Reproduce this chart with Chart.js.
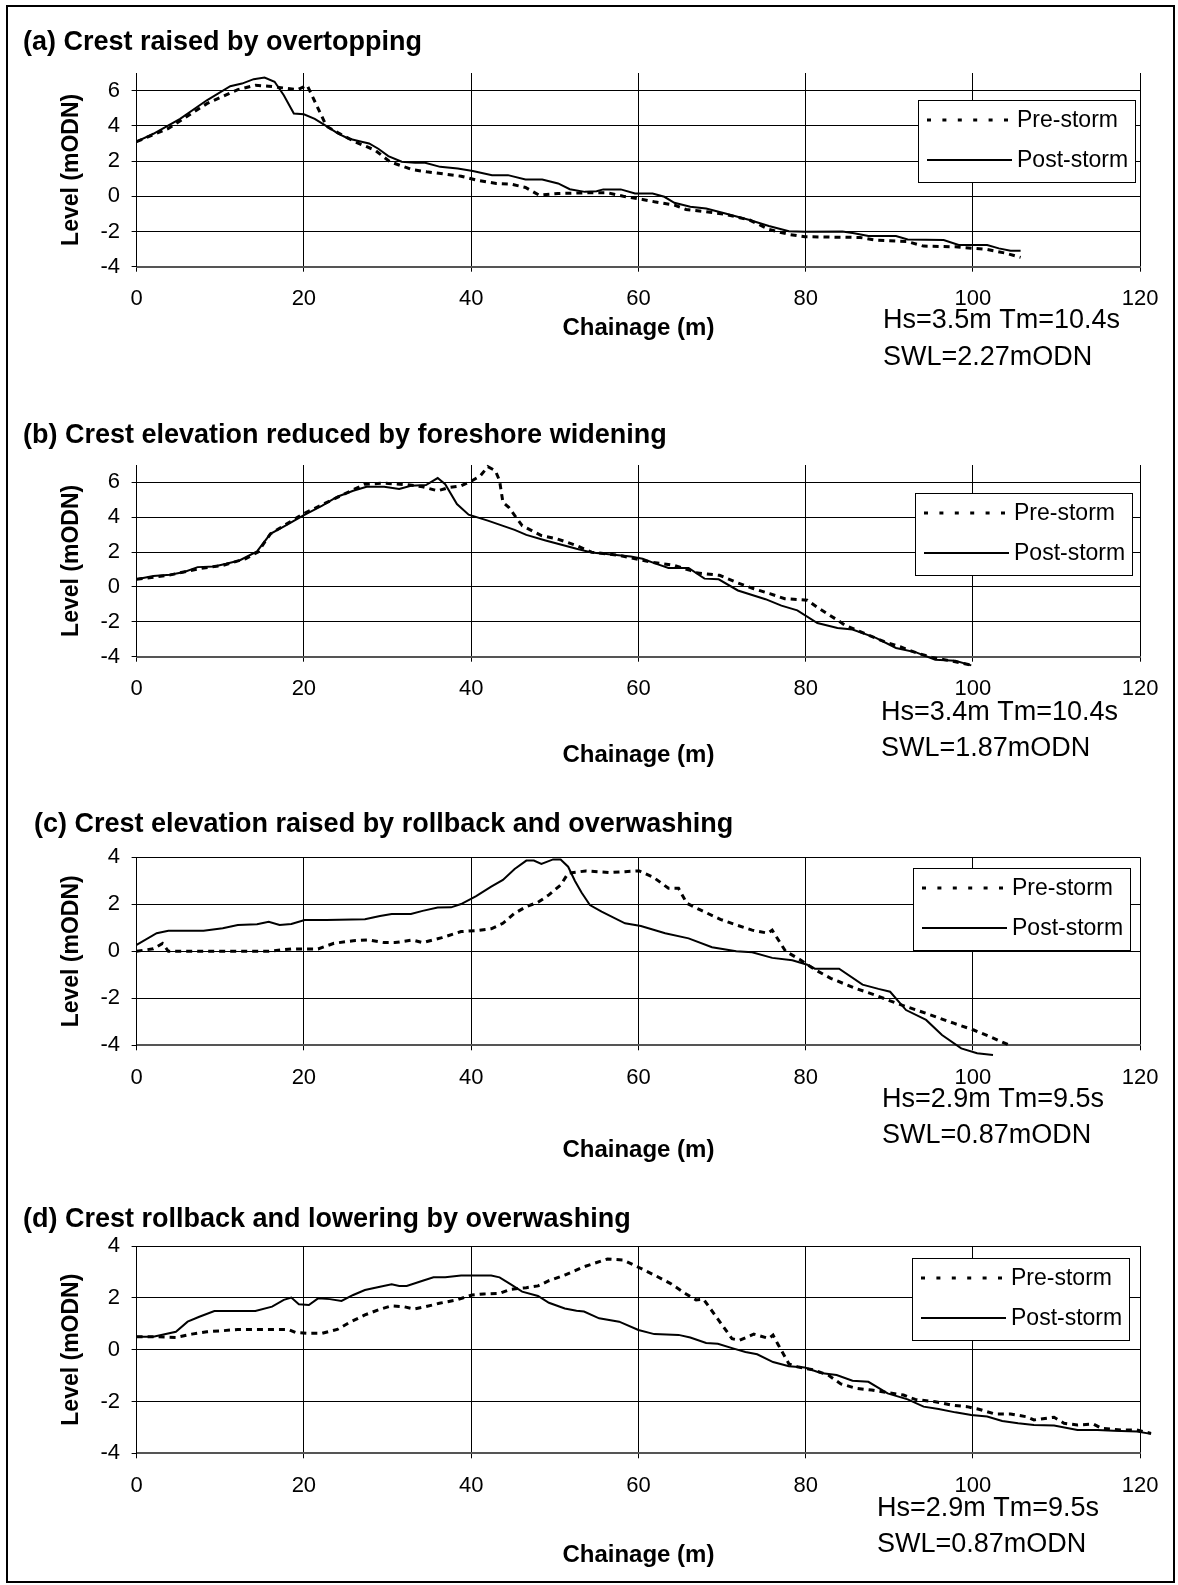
<!DOCTYPE html>
<html>
<head>
<meta charset="utf-8">
<title>Beach profile change</title>
<script src="https://cdn.jsdelivr.net/npm/chart.js@4.4.1/dist/chart.umd.min.js"></script>
<style>
  html, body { margin: 0; padding: 0; background: #fff; }
  #page { position: relative; width: 1178px; height: 1585px; overflow: hidden; }
  #page canvas { position: absolute; left: 0; }
  #frame { position: absolute; left: 6px; top: 5px; width: 1169px; height: 1578px;
           border: 2px solid #000; box-sizing: border-box; pointer-events: none; }
</style>
</head>
<body>
<div id="page"><div id="frame"></div></div>
<script>
const FONT = "'Liberation Sans', Arial, Helvetica, sans-serif";

const seriesNames = ['Pre-storm', 'Post-storm'];
const panelTitles = [
  '(a) Crest raised by overtopping',
  '(b) Crest elevation reduced by foreshore widening',
  '(c) Crest elevation raised by rollback and overwashing',
  '(d) Crest rollback and lowering by overwashing'
];
const waveNotes = ['Hs=3.5m Tm=10.4s', 'Hs=3.4m Tm=10.4s', 'Hs=2.9m Tm=9.5s', 'Hs=2.9m Tm=9.5s'];
const swlNotes = ['SWL=2.27mODN', 'SWL=1.87mODN', 'SWL=0.87mODN', 'SWL=0.87mODN'];
const levelMax = [7, 7, 4, 4];
const levelMin = -4;
const levelStep = 2;
const chainageMax = 120;
const chainageStep = 20;

// (a)
const aPreChainage = [0, 3.8, 8.4, 12.1, 14.2, 15.8, 17.6, 19.2, 20.4, 22.7, 24.1, 26.4, 28.5, 30.3, 32.9, 34.7, 38.8, 40.7, 43, 44.8, 46.5, 48.1, 50.4, 54.5, 56.3, 58.2, 60.5, 61.9, 64.3, 65.7, 68.1, 70.4, 73.3, 75.6, 78, 79.9, 86.5, 88.4, 92.2, 94.1, 97.9, 101.7, 104, 105.7];
const aPreLevel = [3.1, 3.85, 5.26, 6.06, 6.3, 6.25, 6.15, 6.05, 6.3, 3.98, 3.6, 3.03, 2.62, 1.96, 1.52, 1.39, 1.14, 0.91, 0.73, 0.69, 0.5, 0.07, 0.16, 0.2, 0.2, 0.0, -0.18, -0.31, -0.5, -0.75, -0.88, -1.03, -1.35, -1.88, -2.17, -2.3, -2.34, -2.49, -2.58, -2.83, -2.87, -3.02, -3.24, -3.47];
const aPostChainage = [0, 2, 5.2, 8.4, 11.2, 12.6, 14, 15.3, 16.5, 17.6, 18.8, 20, 21.3, 22.7, 24.1, 25.3, 26.9, 27.8, 28.9, 30.1, 31.7, 33.3, 34.5, 36.3, 38.4, 40.2, 42.5, 44.4, 46.5, 48.5, 50.4, 51.8, 53.6, 55, 55.8, 57.9, 59.6, 61.7, 63.1, 64.3, 66.2, 68.1, 70.4, 73.3, 75.6, 78, 79.9, 84.4, 85.8, 87.5, 90.8, 92.2, 96.5, 98.3, 101.7, 103.1, 104.5, 105.7];
const aPostLevel = [3.1, 3.55, 4.4, 5.45, 6.25, 6.4, 6.65, 6.74, 6.5, 5.74, 4.7, 4.66, 4.4, 3.98, 3.56, 3.28, 3.1, 3.0, 2.7, 2.28, 1.96, 1.9, 1.9, 1.67, 1.58, 1.44, 1.2, 1.2, 0.95, 0.95, 0.73, 0.4, 0.25, 0.28, 0.39, 0.39, 0.16, 0.16, -0.03, -0.37, -0.6, -0.69, -0.98, -1.35, -1.69, -1.98, -2.01, -2.0, -2.1, -2.26, -2.26, -2.45, -2.49, -2.77, -2.77, -2.96, -3.09, -3.09];

// (b)
const bPreChainage = [0, 3.8, 7.5, 10.3, 13, 14.5, 16, 19.9, 24, 27.3, 29.6, 32.3, 34.2, 36, 37.4, 38.8, 40.1, 41.1, 42, 42.9, 43.4, 43.8, 44.5, 46.1, 48.4, 50.3, 52.6, 54.4, 57.7, 60, 61.5, 64.3, 66.2, 67.1, 69.7, 71.9, 73.8, 75.7, 77.5, 80.2, 81.3, 83.7, 84.7, 87.5, 89.4, 91.3, 93.2, 95.1, 97.9, 100];
const bPreLevel = [0.44, 0.67, 1.05, 1.24, 1.62, 2.0, 3.05, 4.19, 5.14, 5.9, 5.96, 5.87, 5.75, 5.52, 5.71, 5.81, 6.1, 6.38, 6.9, 6.67, 6.1, 4.86, 4.57, 3.52, 2.95, 2.76, 2.38, 2.0, 1.81, 1.58, 1.43, 1.24, 0.95, 0.8, 0.67, 0.23, -0.1, -0.38, -0.67, -0.76, -1.14, -1.87, -2.19, -2.76, -3.14, -3.43, -3.77, -4.04, -4.29, -4.51];
const bPostChainage = [0, 2, 4, 5.7, 7.3, 9.3, 10.7, 12.3, 14.4, 16, 17.8, 19.9, 22.2, 24, 25.9, 27.5, 29.6, 31.4, 32.8, 34.6, 36, 36.9, 38.3, 39.7, 42, 45.2, 46.6, 48.9, 52.6, 54.4, 59.1, 60.5, 61.9, 63.6, 66, 67.9, 69.6, 71.9, 75.2, 77.1, 79, 81.4, 83.8, 85.6, 88.4, 90.8, 93.2, 95.5, 97.9, 99.8];
const bPostLevel = [0.44, 0.63, 0.7, 0.86, 1.14, 1.18, 1.33, 1.52, 2.04, 3.05, 3.52, 4.1, 4.67, 5.18, 5.52, 5.75, 5.75, 5.62, 5.81, 5.85, 6.25, 5.9, 4.76, 4.15, 3.81, 3.28, 2.99, 2.67, 2.19, 1.98, 1.75, 1.62, 1.37, 1.09, 1.09, 0.48, 0.44, -0.2, -0.7, -1.07, -1.34, -2.07, -2.35, -2.44, -2.92, -3.5, -3.75, -4.17, -4.23, -4.5];

// (c)
const cPreChainage = [0, 2, 3.1, 3.8, 15.8, 18.5, 21.7, 23.6, 25.9, 27.7, 29.6, 30.9, 33, 34.2, 36.5, 38.8, 40.6, 42.4, 43.8, 45.2, 46.6, 48, 49.3, 50.7, 51.6, 53.7, 56.5, 58.4, 60.1, 61.8, 63.6, 64.8, 65.8, 67.4, 69.8, 71.7, 73.6, 75.5, 76, 77.6, 79.3, 81.1, 83, 85.9, 88.3, 90.1, 92, 94.4, 97.7, 100.1, 102, 104.6];
const cPreLevel = [0, 0.11, 0.33, 0, 0, 0.1, 0.1, 0.34, 0.45, 0.48, 0.37, 0.37, 0.48, 0.37, 0.58, 0.84, 0.88, 0.96, 1.19, 1.62, 1.9, 2.09, 2.4, 2.82, 3.32, 3.42, 3.35, 3.39, 3.42, 3.15, 2.68, 2.68, 2.04, 1.76, 1.36, 1.12, 0.9, 0.77, 0.9, 0.0, -0.35, -0.78, -1.15, -1.57, -1.86, -2.11, -2.35, -2.64, -3.06, -3.35, -3.63, -4.03];
const cPostChainage = [0, 2.4, 3.8, 8, 10.3, 12.1, 14.4, 15.8, 17.1, 18.5, 20.1, 22.7, 27.3, 29.1, 30.5, 32.8, 34.2, 36, 37.6, 38.8, 40.6, 42.4, 43.8, 45.2, 46.6, 47.5, 48.4, 49.8, 50.7, 51.6, 52.4, 53.2, 54.2, 55.6, 58.4, 60.3, 63.2, 66, 68.8, 71.7, 73.6, 76, 78.4, 80.2, 81.1, 84, 86.8, 88.7, 90.1, 92, 94.4, 96.3, 98.6, 100.5, 102.4];
const cPostLevel = [0.27, 0.77, 0.87, 0.87, 0.98, 1.12, 1.15, 1.26, 1.12, 1.16, 1.33, 1.33, 1.36, 1.5, 1.59, 1.59, 1.72, 1.86, 1.87, 2.01, 2.35, 2.75, 3.04, 3.5, 3.86, 3.86, 3.72, 3.91, 3.91, 3.6, 3.0, 2.5, 1.97, 1.69, 1.19, 1.08, 0.77, 0.55, 0.17, 0.0, -0.04, -0.28, -0.38, -0.57, -0.74, -0.74, -1.42, -1.6, -1.72, -2.5, -2.92, -3.56, -4.13, -4.34, -4.41];

// (d)
const dPreChainage = [0, 2, 4.7, 6.6, 8.4, 10.3, 12.1, 18.1, 19, 20.4, 22.2, 24, 25.4, 27.3, 29.1, 30.5, 31.9, 33.2, 34.6, 36.2, 38.3, 40.1, 41.5, 43.4, 44.7, 46.6, 48, 49.3, 51.2, 53.5, 56.3, 58.2, 60, 61.9, 63.8, 65.7, 66.9, 67.8, 71.2, 72.1, 73.8, 75.6, 76.1, 76.7, 78, 79, 80.9, 82.7, 84.2, 86, 87.9, 89.8, 91.7, 93.1, 95.5, 97.4, 99.3, 100.7, 102.6, 104.5, 106.4, 107.3, 109.7, 110.9, 112.5, 114.4, 115.4, 117.7, 119.6, 121.3];
const dPreLevel = [0.5, 0.5, 0.47, 0.6, 0.69, 0.73, 0.78, 0.78, 0.66, 0.63, 0.63, 0.78, 1.04, 1.34, 1.56, 1.69, 1.66, 1.57, 1.66, 1.79, 1.92, 2.11, 2.15, 2.17, 2.33, 2.39, 2.46, 2.66, 2.88, 3.2, 3.5, 3.46, 3.18, 2.88, 2.56, 2.15, 1.92, 1.94, 0.42, 0.36, 0.6, 0.43, 0.56, 0.2, -0.55, -0.66, -0.78, -0.98, -1.32, -1.49, -1.56, -1.66, -1.75, -1.92, -2.01, -2.14, -2.2, -2.3, -2.48, -2.48, -2.59, -2.71, -2.61, -2.84, -2.91, -2.87, -3.04, -3.1, -3.1, -3.23];
const dPostChainage = [0, 2, 4.7, 6.1, 7.5, 9.3, 14.2, 16.2, 17.6, 18.5, 19.4, 20.6, 21.7, 23.1, 24.5, 25.9, 27.3, 29.1, 30.5, 31.4, 32.3, 34.2, 35.5, 36.9, 38.8, 42.4, 43.4, 44.7, 46.1, 48, 49.3, 51.2, 52.6, 53.5, 55.3, 57.7, 60, 61.9, 64.8, 66.2, 68.1, 69.5, 71.4, 72.8, 74.2, 76.1, 78, 79.9, 81.8, 83.7, 85.6, 87.5, 89.8, 92.2, 94.1, 95.9, 97.9, 99.8, 101.7, 103.5, 105.4, 107.3, 109.7, 112.5, 114.9, 116.8, 119.6, 121.3];
const dPostLevel = [0.5, 0.5, 0.69, 1.08, 1.27, 1.49, 1.49, 1.66, 1.92, 2.01, 1.75, 1.72, 1.98, 1.95, 1.88, 2.11, 2.3, 2.43, 2.52, 2.46, 2.46, 2.66, 2.79, 2.79, 2.86, 2.86, 2.79, 2.53, 2.24, 2.07, 1.81, 1.59, 1.5, 1.47, 1.21, 1.08, 0.76, 0.6, 0.57, 0.47, 0.26, 0.23, 0.04, -0.09, -0.18, -0.48, -0.64, -0.69, -0.9, -0.98, -1.2, -1.24, -1.69, -1.92, -2.2, -2.29, -2.42, -2.52, -2.58, -2.75, -2.84, -2.91, -2.93, -3.1, -3.1, -3.13, -3.16, -3.25];

const profiles = [
  [aPreChainage, aPreLevel, aPostChainage, aPostLevel],
  [bPreChainage, bPreLevel, bPostChainage, bPostLevel],
  [cPreChainage, cPreLevel, cPostChainage, cPostLevel],
  [dPreChainage, dPreLevel, dPostChainage, dPostLevel]
];

// where each panel sits on the page (page pixels)
const layout = [
  {top: 0, height: 372, plotTop: 73, plotBottom: 266.7, titleX: 23, titleY: 50, noteX: 883, noteY: [328, 365], xTitleY: 328, legendX: 918, legendY: 100},
  {top: 372, height: 395, plotTop: 465, plotBottom: 656.7, titleX: 23, titleY: 443.3, noteX: 881, noteY: [720, 756], xTitleY: 755, legendX: 915, legendY: 493},
  {top: 767, height: 401, plotTop: 857.3, plotBottom: 1045.3, titleX: 34, titleY: 831.7, noteX: 882, noteY: [1107.3, 1143.3], xTitleY: 1150, legendX: 913, legendY: 868},
  {top: 1168, height: 417, plotTop: 1246, plotBottom: 1453.3, titleX: 23, titleY: 1226.7, noteX: 877, noteY: [1516, 1551.7], xTitleY: 1555, legendX: 912, legendY: 1258}
];
const plotLeft = 136.6, plotRight = 1140.2;

Chart.defaults.font.family = FONT;
Chart.defaults.color = '#000';

// panel heading, wave notes and the boxed legend
const decor = {
  id: 'decor',
  afterDatasetsDraw(chart, args, o) {
    const ctx = chart.ctx;
    ctx.save();
    ctx.fillStyle = '#000';
    ctx.textAlign = 'left';
    ctx.textBaseline = 'alphabetic';
    ctx.font = 'bold 27px ' + FONT;
    ctx.fillText(o.title, o.titleX, o.titleY - o.top);
    ctx.font = '27px ' + FONT;
    o.notes.forEach((t, k) => ctx.fillText(t, o.noteX, o.noteY[k] - o.top));

    const bx = o.legendX, by = o.legendY - o.top, bw = 217, bh = 82;
    ctx.fillStyle = '#fff';
    ctx.fillRect(bx, by, bw, bh);
    ctx.strokeStyle = '#000';
    ctx.lineWidth = 1;
    ctx.strokeRect(Math.round(bx) + 0.5, Math.round(by) + 0.5, bw, bh);
    chart.data.datasets.forEach((ds, k) => {
      const cy = by + 20 + 40 * k;
      ctx.save();
      ctx.strokeStyle = ds.borderColor;
      ctx.lineWidth = ds.borderWidth;
      ctx.setLineDash(ds.legendDash || []);
      ctx.beginPath();
      ctx.moveTo(bx + 9, cy);
      ctx.lineTo(bx + (ds.legendDash ? 90 : 94), cy);
      ctx.stroke();
      ctx.restore();
      ctx.fillStyle = '#000';
      ctx.font = '23px ' + FONT;
      ctx.textBaseline = 'middle';
      ctx.fillText(ds.label, bx + 99, cy + 1);
    });
    ctx.restore();
  }
};

const page = document.getElementById('page');
const frame = document.getElementById('frame');
const toPoints = (xs, ys) => xs.map((x, k) => ({x: x, y: ys[k]}));

layout.forEach((L, i) => {
  const canvas = document.createElement('canvas');
  canvas.width = 1178;
  canvas.height = L.height;
  canvas.style.top = L.top + 'px';
  canvas.style.width = '1178px';
  canvas.style.height = L.height + 'px';
  page.insertBefore(canvas, frame);

  const [preX, preY, postX, postY] = profiles[i];
  const plotTop = L.plotTop - L.top;
  const plotBottom = L.plotBottom - L.top;
  const xAxisH = L.xTitleY - L.plotBottom + 12;

  new Chart(canvas, {
    type: 'line',
    data: {
      datasets: [
        {
          label: seriesNames[0],
          data: toPoints(preX, preY),
          borderColor: '#000',
          borderWidth: 3,
          borderDash: [6, 5],
          legendDash: [4, 11.4],
          pointRadius: 0,
          tension: 0,
          clip: false
        },
        {
          label: seriesNames[1],
          data: toPoints(postX, postY),
          borderColor: '#000',
          borderWidth: 2,
          pointRadius: 0,
          tension: 0,
          clip: false
        }
      ]
    },
    options: {
      responsive: false,
      animation: false,
      devicePixelRatio: 1,
      layout: {
        padding: {left: 0, top: plotTop, right: 1178 - plotRight, bottom: L.height - plotBottom - xAxisH}
      },
      plugins: {
        legend: {display: false},
        tooltip: {enabled: false},
        decor: {
          top: L.top, title: panelTitles[i], titleX: L.titleX, titleY: L.titleY,
          notes: [waveNotes[i], swlNotes[i]], noteX: L.noteX, noteY: L.noteY,
          legendX: L.legendX, legendY: L.legendY
        }
      },
      scales: {
        x: {
          type: 'linear',
          min: 0,
          max: chainageMax,
          bounds: 'data',
          ticks: {stepSize: chainageStep, padding: 14, font: {size: 22}, maxRotation: 0, autoSkip: false},
          grid: {color: '#000', lineWidth: 1, tickLength: 5},
          border: {color: '#555', width: 2},
          title: {display: true, text: 'Chainage (m)', font: {size: 24, weight: 'bold', lineHeight: 1}, padding: 0},
          afterFit: s => { s.height = xAxisH; }
        },
        y: {
          type: 'linear',
          min: levelMin,
          max: levelMax[i],
          bounds: 'data',
          ticks: {stepSize: levelStep, padding: 11.6, font: {size: 22}},
          // the axis runs up to 7 m in (a) and (b) but is only labelled every 2 m
          afterBuildTicks: s => { s.ticks = s.ticks.filter(t => Math.abs(t.value % levelStep) < 1e-9); },
          grid: {color: '#000', lineWidth: 1, tickLength: 5},
          border: {color: '#000', width: 1},
          title: {display: true, text: 'Level (mODN)', font: {size: 23, weight: 'bold', lineHeight: 1.2},
                  padding: {top: 72 - 13.8, bottom: 0}},
          afterFit: s => { s.width = plotLeft; }
        }
      }
    },
    plugins: [decor]
  });
});
</script>
</body>
</html>
